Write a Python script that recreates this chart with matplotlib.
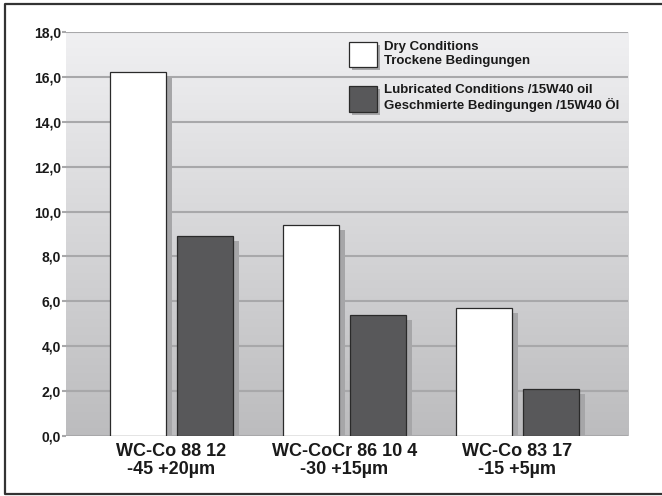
import numpy as np
import matplotlib.pyplot as plt
from matplotlib import patheffects as pe
from matplotlib.lines import Line2D
from matplotlib.colors import LinearSegmentedColormap

plt.rcParams['font.family'] = ['Liberation Sans', 'DejaVu Sans']

# data
categories = ['WC-Co 88 12\n-45 +20\u00b5m',
              'WC-CoCr 86 10 4\n-30 +15\u00b5m',
              'WC-Co 83 17\n-15 +5\u00b5m']
dry = [16.2, 9.4, 5.7]
lubricated = [8.9, 5.4, 2.1]
series_labels = ['Dry Conditions\nTrockene Bedingungen',
                 'Lubricated Conditions /15W40 oil\nGeschmierte Bedingungen /15W40 \u00d6l']
yticks = [0, 2, 4, 6, 8, 10, 12, 14, 16, 18]

fig = plt.figure(figsize=(6.62, 4.96), dpi=100)
ax = fig.add_axes([66/662, 60/496, 562/662, 404/496])

# outer frame (open on the right, like the scan)
fx0, fy0, fy1 = 4.5/662, 2.5/496, 1 - 4/496
fig.add_artist(Line2D([1.05, fx0, fx0, 1.05], [fy1, fy1, fy0, fy0], transform=fig.transFigure,
                      color='#333333', linewidth=1.6))

# gradient background
cmap = LinearSegmentedColormap.from_list('bg', ['#bcbcbe', '#f0f0f2'])
grad = np.linspace(0, 1, 256).reshape(-1, 1)
ax.imshow(grad, extent=[0, 1, 0, 1], transform=ax.transAxes, cmap=cmap,
          origin='lower', aspect='auto', zorder=0)

x = np.arange(len(categories))
w = 0.324
off = 0.194
shadow = [pe.SimplePatchShadow(offset=(4.3, -3.6), shadow_rgbFace='#a6a6a8', alpha=1.0),
          pe.Normal()]

b1 = ax.bar(x - off, dry, w, color='white', edgecolor='#2a2a2a', linewidth=0.9,
            zorder=3, label=series_labels[0])
b2 = ax.bar(x + off, lubricated, w, color='#58585a', edgecolor='#2a2a2a', linewidth=0.9,
            zorder=3, label=series_labels[1])
for b in list(b1) + list(b2):
    b.set_path_effects(shadow)

ax.set_xlim(-0.61, 2.64)
ax.set_ylim(0, 18)
ax.set_yticks(yticks)
ax.set_yticklabels([f'{v:.1f}'.replace('.', ',') for v in yticks],
                   fontsize=10, fontweight='bold', color='#1a1a1a')
ax.tick_params(axis='y', length=3, width=1.5, color='#a8a8aa', pad=0.5)
ax.yaxis.grid(True, color='#a8a8aa', linewidth=1.5, zorder=1)
ax.set_axisbelow(True)

ax.set_xticks(x)
ax.set_xticklabels(categories, fontsize=13, fontweight='bold', color='#1a1a1a',
                   linespacing=1.05)
ax.tick_params(axis='x', length=0, pad=5)

for s in ax.spines.values():
    s.set_visible(False)

leg = ax.legend(handles=[b1[0], b2[0]], labels=series_labels, loc='upper left',
                bbox_to_anchor=(0.504, 0.978), frameon=False,
                prop={'weight': 'bold', 'size': 9.5}, handlelength=2.1,
                handleheight=2.6, handletextpad=0.55, labelspacing=1.3,
                borderpad=0, borderaxespad=0)
for t in leg.get_texts():
    t.set_color('#1a1a1a')
for h in leg.legend_handles:
    h.set_path_effects([pe.SimplePatchShadow(offset=(2.2, -2.2), shadow_rgbFace='#a6a6a8', alpha=1.0),
                        pe.Normal()])

fig.savefig('out.png', dpi=100)
